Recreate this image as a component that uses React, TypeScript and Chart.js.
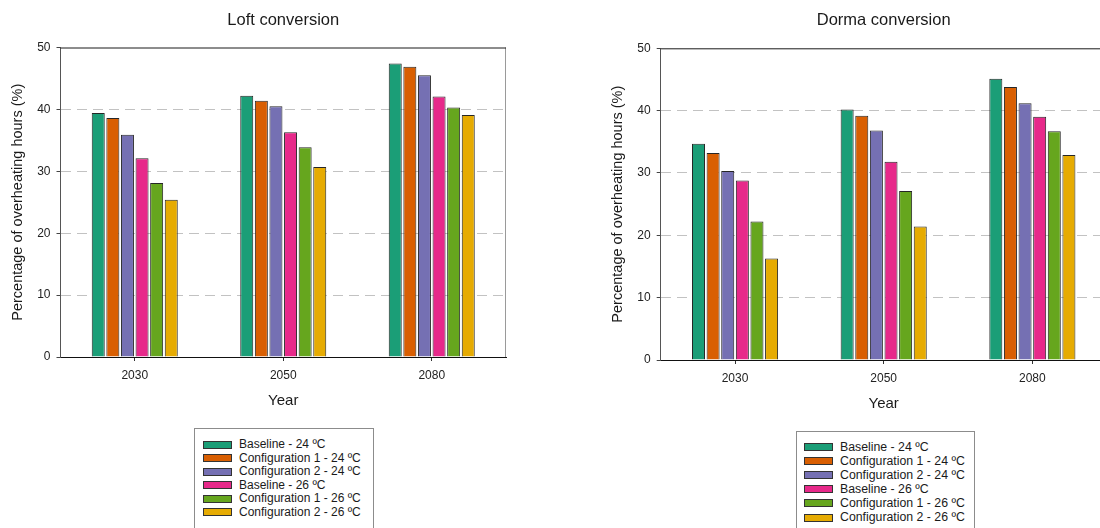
import React, { useEffect, useRef } from "react";
import { Chart, registerables } from "chart.js";

Chart.register(...registerables);

const FONT = "'Liberation Sans', Arial, Helvetica, sans-serif";
Chart.defaults.font.family = FONT;

const categories = ["2030", "2050", "2080"];
const seriesLabels = [
  "Baseline - 24 ºC",
  "Configuration 1 - 24 ºC",
  "Configuration 2 - 24 ºC",
  "Baseline - 26 ºC",
  "Configuration 1 - 26 ºC",
  "Configuration 2 - 26 ºC",
];
const seriesColors = ["#1B9E77", "#D95F02", "#7570B3", "#E7298A", "#66A61E", "#E6AB02"];
const yTicksMin = 0;
const yTicksMax = 50;
const yTickStep = 10;

// Loft conversion
const loftBaseline24 = [39.4, 42.2, 47.4];
const loftConfig1_24 = [38.6, 41.4, 46.9];
const loftConfig2_24 = [35.9, 40.5, 45.5];
const loftBaseline26 = [32.1, 36.3, 42.1];
const loftConfig1_26 = [28.1, 33.9, 40.3];
const loftConfig2_26 = [25.4, 30.7, 39.1];

// Dorma conversion
const dormaBaseline24 = [34.7, 40.2, 45.1];
const dormaConfig1_24 = [33.2, 39.2, 43.8];
const dormaConfig2_24 = [30.3, 36.8, 41.2];
const dormaBaseline26 = [28.8, 31.8, 39.0];
const dormaConfig1_26 = [22.2, 27.1, 36.7];
const dormaConfig2_26 = [16.3, 21.4, 32.9];

const loftSeries = [loftBaseline24, loftConfig1_24, loftConfig2_24, loftBaseline26, loftConfig1_26, loftConfig2_26];
const dormaSeries = [dormaBaseline24, dormaConfig1_24, dormaConfig2_24, dormaBaseline26, dormaConfig1_26, dormaConfig2_26];

const framePlugin = {
  id: "frame",
  afterDatasetsDraw(chart: any) {
    const { ctx, chartArea } = chart;
    const { left, right, top, bottom } = chartArea;
    ctx.save();
    ctx.lineWidth = 1;
    ctx.strokeStyle = "#9a9a9a";
    ctx.beginPath();
    ctx.moveTo(right - 0.5, top);
    ctx.lineTo(right - 0.5, bottom);
    ctx.stroke();
    ctx.strokeStyle = "#1a1a1a";
    ctx.beginPath();
    ctx.moveTo(left, top + 0.5);
    ctx.lineTo(right, top + 0.5);
    ctx.stroke();
    ctx.restore();
  },
};

type PanelProps = {
  title: string;
  series: number[][];
  left: number;
  width: number;
  height: number;
  padRight: number;
  titleBottom: number;
  xHeight: number;
  yWidth: number;
  yearPadBottom: number;
};

function Panel(p: PanelProps) {
  const ref = useRef<HTMLCanvasElement | null>(null);
  useEffect(() => {
    if (!ref.current) return;
    const chart = new Chart(ref.current, {
      type: "bar",
      data: {
        labels: categories,
        datasets: p.series.map((vals, i) => ({
          label: seriesLabels[i],
          data: vals,
          backgroundColor: seriesColors[i],
          borderColor: "#262626",
          borderWidth: 1,
          categoryPercentage: 0.59,
          barPercentage: 0.89,
        })),
      },
      options: {
        responsive: false,
        animation: false,
        layout: { padding: { left: 0, top: 0, right: p.padRight, bottom: 0 } },
        plugins: {
          legend: { display: false },
          tooltip: { enabled: false },
          title: {
            display: true,
            text: p.title,
            fullSize: false,
            color: "#1a1a1a",
            font: { family: FONT, size: 16.5, weight: "normal" },
            padding: { top: 10.1, bottom: p.titleBottom },
          },
        },
        scales: {
          x: {
            grid: {
              display: true,
              drawOnChartArea: false,
              drawTicks: true,
              offset: false,
              tickLength: 4,
              tickColor: "#333",
              color: "#333",
            },
            border: { display: true, color: "#111", width: 1 },
            ticks: { color: "#222", font: { family: FONT, size: 12 }, padding: 7 },
            title: {
              display: true,
              text: "Year",
              color: "#1a1a1a",
              font: { family: FONT, size: 15 },
              padding: { top: 0, bottom: p.yearPadBottom },
            },
            afterFit: (s: any) => {
              s.height = p.xHeight;
            },
          },
          y: {
            min: yTicksMin,
            max: yTicksMax,
            ticks: { stepSize: yTickStep, color: "#222", font: { family: FONT, size: 12 }, padding: 6 },
            grid: {
              color: (c: any) =>
                c.tick && (c.tick.value === yTicksMin || c.tick.value === yTicksMax) ? "rgba(0,0,0,0)" : "#c2c2c2",
              tickColor: "#444",
              tickLength: 4,
              lineWidth: 1,
            },
            border: { display: true, color: "#555", width: 1, dash: [10, 6] },
            title: {
              display: true,
              text: "Percentage of overheating hours (%)",
              color: "#1a1a1a",
              font: { family: FONT, size: 14.5 },
              padding: { top: 9, bottom: 0 },
            },
            afterFit: (s: any) => {
              s.width = p.yWidth;
            },
          },
        },
      },
      plugins: [framePlugin],
    });
    return () => chart.destroy();
  }, []);
  return (
    <canvas
      ref={ref}
      width={p.width}
      height={p.height}
      style={{ position: "absolute", left: p.left, top: 0, width: p.width, height: p.height }}
    />
  );
}

type LegendProps = { left: number; top: number; width: number; padTop: number; lineHeight: number; swLeft: number; textLeft: number; fontSize: number };

function LegendBox(p: LegendProps) {
  return (
    <div
      style={{
        position: "absolute",
        left: p.left,
        top: p.top,
        width: p.width,
        height: 120,
        border: "1px solid #8c8c8c",
        boxSizing: "border-box",
        background: "#fff",
        paddingTop: p.padTop,
        fontFamily: FONT,
        fontSize: p.fontSize,
        color: "#1a1a1a",
      }}
    >
      {seriesLabels.map((lab, i) => (
        <div key={lab} style={{ position: "relative", height: p.lineHeight, lineHeight: p.lineHeight + "px", whiteSpace: "nowrap" }}>
          <span
            style={{
              position: "absolute",
              left: p.swLeft - 1,
              top: (p.lineHeight - 8) / 2,
              width: 29,
              height: 8,
              boxSizing: "border-box",
              background: seriesColors[i],
              border: "1px solid #333",
            }}
          />
          <span style={{ position: "absolute", left: p.textLeft - 1, top: 0 }}>{lab}</span>
        </div>
      ))}
    </div>
  );
}

export default function App() {
  return (
    <div
      style={{
        position: "absolute",
        left: 0,
        top: 0,
        width: 1100,
        height: 528,
        overflow: "hidden",
        background: "#fff",
      }}
    >
      <Panel
        title="Loft conversion"
        series={loftSeries}
        left={0}
        width={520}
        height={420}
        padRight={14}
        titleBottom={17.6}
        xHeight={63}
        yWidth={60.5}
        yearPadBottom={10}
      />
      <Panel
        title="Dorma conversion"
        series={dormaSeries}
        left={600}
        width={510}
        height={425}
        padRight={3.3}
        titleBottom={18.4}
        xHeight={65}
        yWidth={60.7}
        yearPadBottom={12}
      />
      <LegendBox left={194} top={428} width={180} padTop={9} lineHeight={13.5} swLeft={9} textLeft={45} fontSize={12} />
      <LegendBox left={796} top={431} width={179} padTop={8} lineHeight={14.1} swLeft={8} textLeft={44} fontSize={12.3} />
    </div>
  );
}
